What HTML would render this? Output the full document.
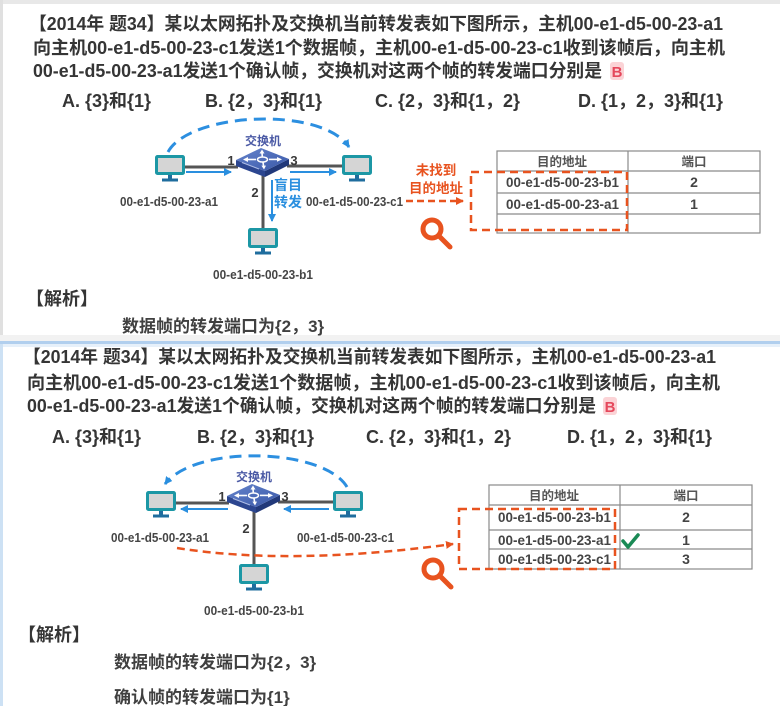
<!DOCTYPE html>
<html><head><meta charset="utf-8">
<style>
html,body{margin:0;padding:0;background:#fff;}
svg{display:block;}
.q{font-family:"Liberation Sans","Noto Sans CJK SC",sans-serif;font-weight:bold;font-size:18px;fill:#353535;}
.an{font-family:"Liberation Sans","Noto Sans CJK SC",sans-serif;font-weight:bold;font-size:17px;fill:#404040;}
.lbl{font-family:"Liberation Sans","Noto Sans CJK SC",sans-serif;font-weight:bold;font-size:12.5px;fill:#454545;}
.port{font-family:"Liberation Sans","Noto Sans CJK SC",sans-serif;font-weight:bold;font-size:13px;fill:#3a3a3a;}
.sw{font-family:"Liberation Sans","Noto Sans CJK SC",sans-serif;font-weight:bold;font-size:12px;fill:#4b5aa5;}
.blue{font-family:"Liberation Sans","Noto Sans CJK SC",sans-serif;font-weight:bold;font-size:14px;fill:#2a8fdf;}
.org{font-family:"Liberation Sans","Noto Sans CJK SC",sans-serif;font-weight:bold;font-size:13.5px;fill:#e8531f;}
.th{font-family:"Liberation Sans","Noto Sans CJK SC",sans-serif;font-weight:bold;font-size:12.5px;fill:#555;}
.td{font-family:"Liberation Sans","Noto Sans CJK SC",sans-serif;font-weight:bold;font-size:14px;fill:#444;}
.bb{font-family:"Liberation Sans",sans-serif;font-weight:bold;font-size:15px;fill:#e5485c;}
</style></head>
<body>
<svg width="780" height="706" viewBox="0 0 780 706" xmlns="http://www.w3.org/2000/svg">
<defs>
  <marker id="ab" markerUnits="userSpaceOnUse" markerWidth="10" markerHeight="10" refX="7" refY="4" orient="auto">
    <path d="M0,0 L8,4 L0,8 z" fill="#2a8fdf"/>
  </marker>
  <marker id="ao" markerUnits="userSpaceOnUse" markerWidth="10" markerHeight="10" refX="7" refY="4" orient="auto">
    <path d="M0,0 L8,4 L0,8 z" fill="#e8531f"/>
  </marker>
  <linearGradient id="swg" x1="0" y1="0" x2="1" y2="1">
    <stop offset="0" stop-color="#6584cc"/>
    <stop offset="1" stop-color="#3a58a8"/>
  </linearGradient>
  <g id="pc">
    <rect x="1.5" y="1.5" width="27" height="17" rx="1" fill="#d5d5d5" stroke="#1c97a5" stroke-width="3"/>
    <rect x="13" y="20" width="4" height="4" fill="#1f6d9e"/>
    <rect x="7" y="23.5" width="16" height="3" fill="#1f6d9e"/>
  </g>
  <g id="switch">
    <polygon points="-26,-2 3,9 3,15 -26,4" fill="#2c4690"/>
    <polygon points="3,9 27,-3 27,3 3,15" fill="#22397a"/>
    <polygon points="-26,-2 -1,-14 27,-3 3,9" fill="url(#swg)"/>
    <ellipse cx="0.5" cy="-2.5" rx="5" ry="2.5" fill="none" stroke="#fff" stroke-width="1.5"/>
    <g stroke="#fff" stroke-width="1.6" fill="none">
      <line x1="-6" y1="-2.5" x2="-15" y2="-2.5"/>
      <line x1="7" y1="-2.6" x2="16" y2="-2.6"/>
      <line x1="0.3" y1="-5.5" x2="0" y2="-9"/>
      <line x1="1" y1="0.3" x2="1.6" y2="4"/>
    </g>
    <g fill="#fff">
      <polygon points="-19,-2.5 -14,-5 -14,0"/>
      <polygon points="20,-2.6 15,-5 15,-0.2"/>
      <polygon points="0,-12.5 -2.5,-8.5 2.5,-8.5"/>
      <polygon points="2,7.5 -0.6,3.6 4,3.6"/>
    </g>
    <line x1="-20" y1="0.5" x2="-3" y2="7" stroke="#aebde6" stroke-width="1"/>
  </g>
  <g id="diag">
    <g stroke="#555" stroke-width="3" fill="none">
      <line x1="184" y1="167" x2="238" y2="167"/>
      <line x1="287" y1="166" x2="342" y2="166"/>
      <line x1="263" y1="174" x2="263" y2="229"/>
    </g>
    <use href="#pc" x="155" y="155"/>
    <use href="#pc" x="342" y="155"/>
    <use href="#pc" x="248" y="228"/>
    <use href="#switch" x="262" y="162"/>
    <text class="sw" x="263" y="145" text-anchor="middle">交换机</text>
    <text class="port" x="231" y="165" text-anchor="middle">1</text>
    <text class="port" x="294" y="165" text-anchor="middle">3</text>
    <text class="port" x="255" y="197" text-anchor="middle">2</text>
    <text class="lbl" x="120" y="206" textLength="98" lengthAdjust="spacingAndGlyphs">00-e1-d5-00-23-a1</text>
    <text class="lbl" x="306" y="206" textLength="97" lengthAdjust="spacingAndGlyphs">00-e1-d5-00-23-c1</text>
    <text class="lbl" x="213" y="279" textLength="100" lengthAdjust="spacingAndGlyphs">00-e1-d5-00-23-b1</text>
  </g>
</defs>

<!-- background frames -->
<rect x="0" y="0" width="780" height="706" fill="#fff"/>
<rect x="0" y="0" width="780" height="4" fill="#e8e8e8"/>
<rect x="0" y="0" width="3" height="340" fill="#e0e0e0"/>
<rect x="0" y="335" width="780" height="6" fill="#f2f2f2"/>
<rect x="0" y="341" width="780" height="3" fill="#b1cfee"/>
<rect x="0" y="344" width="780" height="3" fill="#e6f0fa"/>
<rect x="0" y="344" width="3" height="362" fill="#cde1f4"/>

<!-- ===== TOP PANEL ===== -->
<text class="q" x="29" y="30" textLength="694" lengthAdjust="spacingAndGlyphs">【2014年 题34】某以太网拓扑及交换机当前转发表如下图所示，主机00-e1-d5-00-23-a1</text>
<text class="q" x="33" y="54" textLength="692" lengthAdjust="spacingAndGlyphs">向主机00-e1-d5-00-23-c1发送1个数据帧，主机00-e1-d5-00-23-c1收到该帧后，向主机</text>
<text class="q" x="33" y="77" textLength="569" lengthAdjust="spacingAndGlyphs">00-e1-d5-00-23-a1发送1个确认帧，交换机对这两个帧的转发端口分别是</text>
<rect x="610" y="62" width="14" height="18" rx="3" fill="#fbd3d6"/>
<text class="bb" x="617" y="77" text-anchor="middle">B</text>

<text class="q" x="62" y="107">A. {3}和{1}</text>
<text class="q" x="205" y="107">B. {2，3}和{1}</text>
<text class="q" x="375" y="107">C. {2，3}和{1，2}</text>
<text class="q" x="578" y="107">D. {1，2，3}和{1}</text>

<!-- top diagram -->
<path d="M168,152 C190,112 322,106 349,147" fill="none" stroke="#2c8fe0" stroke-width="3" stroke-dasharray="12 7" marker-end="url(#ab)"/>
<use href="#diag"/>
<g stroke="#2a8fdf" stroke-width="2" fill="none">
  <line x1="186" y1="172" x2="231" y2="172" marker-end="url(#ab)"/>
  <line x1="290" y1="172" x2="336" y2="172" marker-end="url(#ab)"/>
  <line x1="272" y1="180" x2="272" y2="221" marker-end="url(#ab)"/>
</g>
<text class="blue" x="274" y="190">盲目</text>
<text class="blue" x="274" y="207">转发</text>

<text class="org" x="436" y="175" text-anchor="middle">未找到</text>
<text class="org" x="436" y="193" text-anchor="middle">目的地址</text>
<line x1="406" y1="201" x2="463" y2="201" stroke="#e8531f" stroke-width="2.5" stroke-dasharray="7 4" marker-end="url(#ao)"/>
<circle cx="432" cy="229" r="9" fill="none" stroke="#e8531f" stroke-width="5"/>
<line x1="440" y1="237" x2="450" y2="247" stroke="#e8531f" stroke-width="5" stroke-linecap="round"/>

<g stroke="#8a8a8a" stroke-width="1.2" fill="none">
  <rect x="497" y="151" width="263" height="82"/>
  <line x1="497" y1="171" x2="760" y2="171"/>
  <line x1="497" y1="193" x2="760" y2="193"/>
  <line x1="497" y1="214" x2="760" y2="214"/>
  <line x1="628" y1="151" x2="628" y2="233"/>
</g>
<text class="th" x="562" y="166" text-anchor="middle">目的地址</text>
<text class="th" x="694" y="166" text-anchor="middle">端口</text>
<text class="td" x="506" y="187" textLength="113" lengthAdjust="spacingAndGlyphs">00-e1-d5-00-23-b1</text>
<text class="td" x="694" y="187" text-anchor="middle">2</text>
<text class="td" x="506" y="209" textLength="113" lengthAdjust="spacingAndGlyphs">00-e1-d5-00-23-a1</text>
<text class="td" x="694" y="209" text-anchor="middle">1</text>
<rect x="471" y="172" width="156" height="58" fill="none" stroke="#e8531f" stroke-width="2.5" stroke-dasharray="8 5"/>

<text class="q" x="26" y="305">【解析】</text>
<text class="an" x="122" y="332">数据帧的转发端口为{2，3}</text>

<!-- ===== BOTTOM PANEL ===== -->
<text class="q" x="23" y="363" textLength="693" lengthAdjust="spacingAndGlyphs">【2014年 题34】某以太网拓扑及交换机当前转发表如下图所示，主机00-e1-d5-00-23-a1</text>
<text class="q" x="27" y="389" textLength="693" lengthAdjust="spacingAndGlyphs">向主机00-e1-d5-00-23-c1发送1个数据帧，主机00-e1-d5-00-23-c1收到该帧后，向主机</text>
<text class="q" x="27" y="412" textLength="569" lengthAdjust="spacingAndGlyphs">00-e1-d5-00-23-a1发送1个确认帧，交换机对这两个帧的转发端口分别是</text>
<rect x="603" y="397" width="14" height="18" rx="3" fill="#fbd3d6"/>
<text class="bb" x="610" y="412" text-anchor="middle">B</text>

<text class="q" x="52" y="443">A. {3}和{1}</text>
<text class="q" x="197" y="443">B. {2，3}和{1}</text>
<text class="q" x="366" y="443">C. {2，3}和{1，2}</text>
<text class="q" x="567" y="443">D. {1，2，3}和{1}</text>

<!-- bottom diagram -->
<path d="M347,487 C324,448 196,444 165,484" fill="none" stroke="#2c8fe0" stroke-width="3" stroke-dasharray="12 7" marker-end="url(#ab)"/>
<use href="#diag" transform="translate(-9,336)"/>
<g stroke="#2a8fdf" stroke-width="2" fill="none">
  <line x1="228" y1="509" x2="181" y2="509" marker-end="url(#ab)"/>
  <line x1="329" y1="509" x2="284" y2="509" marker-end="url(#ab)"/>
</g>

<path d="M177,548 Q290,566 453,544" fill="none" stroke="#e8531f" stroke-width="2.5" stroke-dasharray="8 5" marker-end="url(#ao)"/>
<circle cx="433" cy="569" r="9" fill="none" stroke="#e8531f" stroke-width="5"/>
<line x1="441" y1="577" x2="451" y2="587" stroke="#e8531f" stroke-width="5" stroke-linecap="round"/>

<g stroke="#8a8a8a" stroke-width="1.2" fill="none">
  <rect x="489" y="485" width="263" height="84"/>
  <line x1="489" y1="505" x2="752" y2="505"/>
  <line x1="489" y1="530" x2="752" y2="530"/>
  <line x1="489" y1="549" x2="752" y2="549"/>
  <line x1="620" y1="485" x2="620" y2="569"/>
</g>
<text class="th" x="554" y="500" text-anchor="middle">目的地址</text>
<text class="th" x="686" y="500" text-anchor="middle">端口</text>
<text class="td" x="498" y="522" textLength="113" lengthAdjust="spacingAndGlyphs">00-e1-d5-00-23-b1</text>
<text class="td" x="686" y="522" text-anchor="middle">2</text>
<text class="td" x="498" y="545" textLength="113" lengthAdjust="spacingAndGlyphs">00-e1-d5-00-23-a1</text>
<text class="td" x="686" y="545" text-anchor="middle">1</text>
<text class="td" x="498" y="564" textLength="113" lengthAdjust="spacingAndGlyphs">00-e1-d5-00-23-c1</text>
<text class="td" x="686" y="564" text-anchor="middle">3</text>
<rect x="459" y="509" width="156" height="60" fill="none" stroke="#e8531f" stroke-width="2.5" stroke-dasharray="8 5"/>
<path d="M623,541 L628,547 L638,535" fill="none" stroke="#1a8a55" stroke-width="3.5" stroke-linecap="round" stroke-linejoin="round"/>

<text class="q" x="18" y="641">【解析】</text>
<text class="an" x="114" y="668">数据帧的转发端口为{2，3}</text>
<text class="an" x="114" y="703">确认帧的转发端口为{1}</text>
</svg>
</body></html>
